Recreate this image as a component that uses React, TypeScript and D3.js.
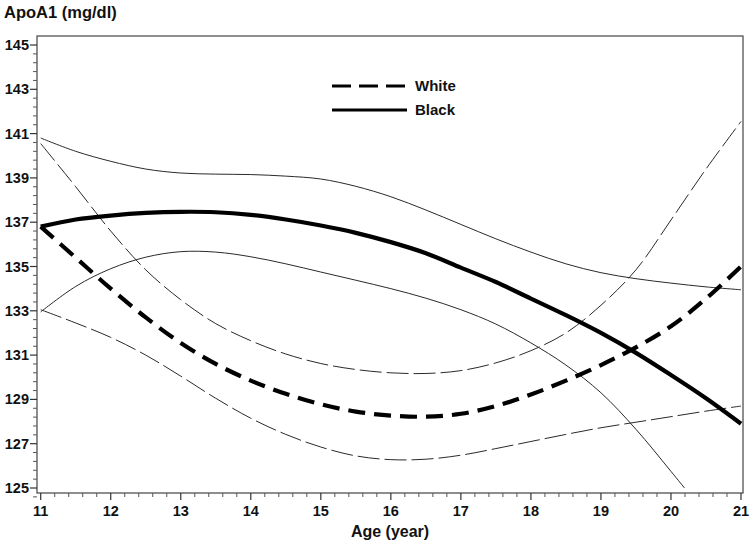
import React from "react";
import * as d3 from "d3";

const ages = [11, 11.5, 12, 12.5, 13, 13.5, 14, 14.5, 15, 15.5, 16, 16.5, 17, 17.5, 18, 18.5, 19, 19.5, 20, 20.5, 21];

const whiteMean = [136.8, 135.4, 134.0, 132.7, 131.55, 130.6, 129.85, 129.25, 128.78, 128.45, 128.27, 128.22, 128.35, 128.7, 129.22, 129.85, 130.55, 131.35, 132.3, 133.55, 135.0];
const whiteUpper = [140.55, 138.6, 136.6, 134.85, 133.5, 132.42, 131.65, 131.05, 130.62, 130.35, 130.2, 130.17, 130.3, 130.65, 131.2, 132.0, 133.25, 134.85, 137.1, 139.4, 141.55];
const whiteLower = [133.05, 132.45, 131.8, 131.0, 130.05, 129.05, 128.15, 127.42, 126.85, 126.45, 126.28, 126.3, 126.48, 126.78, 127.1, 127.42, 127.72, 127.97, 128.22, 128.47, 128.7];

const blackMean = [136.8, 137.12, 137.3, 137.42, 137.47, 137.45, 137.33, 137.12, 136.85, 136.52, 136.1, 135.6, 134.95, 134.3, 133.55, 132.8, 132.0, 131.1, 130.1, 129.05, 127.9];
const blackUpper = [140.8, 140.2, 139.75, 139.4, 139.22, 139.17, 139.15, 139.08, 138.95, 138.62, 138.15, 137.55, 136.9, 136.25, 135.65, 135.12, 134.72, 134.45, 134.25, 134.08, 133.95];
const blackLower = [132.95, 134.1, 134.9, 135.42, 135.67, 135.65, 135.44, 135.12, 134.75, 134.38, 134.0, 133.57, 133.05, 132.4, 131.55, 130.55, 129.3, 127.65, 125.75, 123.8, null];

const yTicks = [125, 127, 129, 131, 133, 135, 137, 139, 141, 143, 145];
const xTicks = [11, 12, 13, 14, 15, 16, 17, 18, 19, 20, 21];
const legendLabels = ["White", "Black"];

const FONT = "'Liberation Sans', Arial, Helvetica, sans-serif";

export default function App() {
  const frame = { left: 37, top: 36, right: 743, bottom: 493 };
  const x = d3.scaleLinear().domain([11, 21]).range([40.7, 741]);
  const y = d3.scaleLinear().domain([125, 145]).range([488, 45]);

  const mk = (vals: (number | null)[]) =>
    d3
      .line<number>()
      .defined((_, i) => vals[i] != null)
      .x((a) => x(a))
      .y((_, i) => y(vals[i] as number))
      .curve(d3.curveCatmullRom.alpha(0.5))(ages) || "";

  const xMinor: number[] = [];
  for (let v = 11; v <= 21.0001; v += 0.2) {
    const r = Math.round(v * 10) / 10;
    if (Math.abs(r - Math.round(r)) > 0.01) xMinor.push(r);
  }
  const yMinor: number[] = [];
  for (let v = 125; v <= 145.0001; v += 0.4) {
    const r = Math.round(v * 10) / 10;
    const m = (r - 125) % 2;
    if (m > 0.01 && m < 1.99) yMinor.push(r);
  }
  yMinor.push(124.6);

  const thin = "#2a2a2a";

  return (
    <svg
      width={750}
      height={546}
      style={{ position: "absolute", left: 0, top: 0, background: "#fff" }}
      fontFamily={FONT}
    >
      <defs>
        <clipPath id="plotclip">
          <rect x={frame.left} y={frame.top} width={frame.right - frame.left} height={y(125) - frame.top} />
        </clipPath>
      </defs>
      <rect x={0} y={0} width={750} height={546} fill="#fff" />

      <text x={4} y={18} fontSize={16.5} fontWeight="bold" fill="#111">
        ApoA1 (mg/dl)
      </text>

      <rect
        x={frame.left}
        y={frame.top}
        width={frame.right - frame.left}
        height={frame.bottom - frame.top}
        fill="none"
        stroke="#444"
        strokeWidth={1.2}
      />

      {yTicks.map((t) => (
        <g key={"y" + t}>
          <line x1={frame.left - 7} x2={frame.left} y1={y(t)} y2={y(t)} stroke="#333" strokeWidth={1.2} />
          <text x={29} y={y(t) + 5} textAnchor="end" fontSize={14.5} fontWeight="bold" fill="#111">
            {t}
          </text>
        </g>
      ))}
      {yMinor.map((t) => (
        <line key={"ym" + t} x1={frame.left - 4} x2={frame.left} y1={y(t)} y2={y(t)} stroke="#555" strokeWidth={1} />
      ))}

      {xTicks.map((t) => (
        <g key={"x" + t}>
          <line x1={x(t)} x2={x(t)} y1={frame.bottom} y2={frame.bottom + 7} stroke="#333" strokeWidth={1.2} />
          <text x={x(t)} y={516} textAnchor="middle" fontSize={14.5} fontWeight="bold" fill="#111">
            {t}
          </text>
        </g>
      ))}
      {xMinor.map((t) => (
        <line key={"xm" + t} x1={x(t)} x2={x(t)} y1={frame.bottom} y2={frame.bottom + 4} stroke="#555" strokeWidth={1} />
      ))}

      <text x={390} y={537} textAnchor="middle" fontSize={16} fontWeight="bold" fill="#111">
        Age (year)
      </text>

      <g clipPath="url(#plotclip)" fill="none">
        <path d={mk(whiteUpper)} stroke={thin} strokeWidth={1} strokeDasharray="22 5" />
        <path d={mk(whiteLower)} stroke={thin} strokeWidth={1} strokeDasharray="22 5" />
        <path d={mk(blackUpper)} stroke={thin} strokeWidth={1} />
        <path d={mk(blackLower)} stroke={thin} strokeWidth={1} />
        <path d={mk(whiteMean)} stroke="#000" strokeWidth={4.2} strokeDasharray="17 9" />
        <path d={mk(blackMean)} stroke="#000" strokeWidth={4.2} />
      </g>

      <line x1={332} x2={407} y1={86} y2={86} stroke="#000" strokeWidth={3.2} strokeDasharray="19 8" />
      <text x={415} y={91} fontSize={15} fontWeight="bold" fill="#111">
        {legendLabels[0]}
      </text>
      <line x1={332} x2={407} y1={110} y2={110} stroke="#000" strokeWidth={3.2} />
      <text x={415} y={115} fontSize={15} fontWeight="bold" fill="#111">
        {legendLabels[1]}
      </text>
    </svg>
  );
}
